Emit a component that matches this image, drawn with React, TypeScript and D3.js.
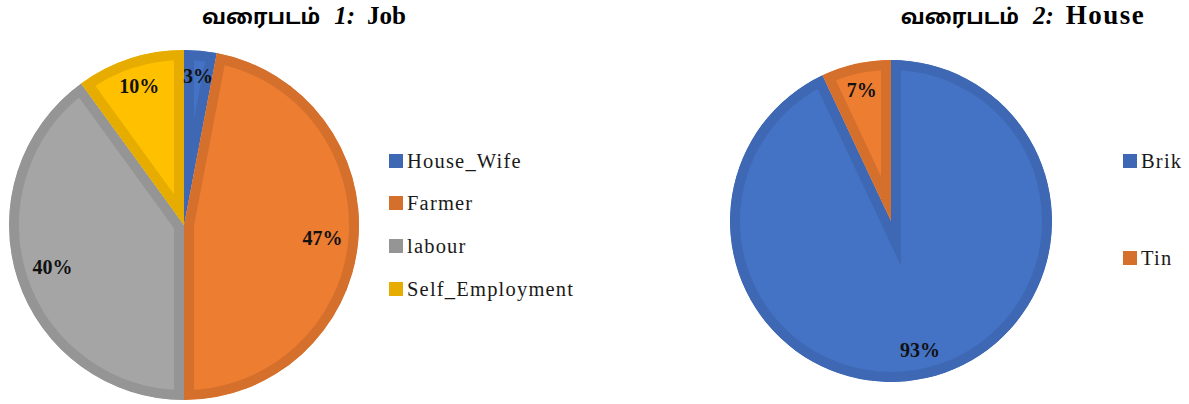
import React from "react";
import * as d3 from "d3";

const jobCategories = ["House_Wife", "Farmer", "labour", "Self_Employment"];
const jobValues = [3, 47, 40, 10];
const jobFills = ["#4472C4", "#ED7D31", "#A5A5A5", "#FFC000"];
const jobBorders = ["#3E68B3", "#D5702C", "#959595", "#E6AC00"];

const houseCategories = ["Brik", "Tin"];
const houseValues = [93, 7];
const houseFills = ["#4472C4", "#ED7D31"];
const houseBorders = ["#3E68B3", "#D5702C"];

const W = 1189;
const H = 404;
const SERIF = "'Liberation Serif', 'Times New Roman', serif";
const TAMIL = "'Noto Sans Tamil', Latha, 'Noto Sans', 'DejaVu Sans', sans-serif";

type PieProps = {
  id: string;
  cx: number;
  cy: number;
  r: number;
  values: number[];
  fills: string[];
  borders: string[];
};

function Pie({ id, cx, cy, r, values, fills, borders }: PieProps) {
  const pie = d3.pie<number>().sort(null).value((d) => d).startAngle(0).endAngle(2 * Math.PI);
  const arcs = pie(values);
  const arc = d3.arc<d3.PieArcDatum<number>>().innerRadius(0).outerRadius(r);
  const total = d3.sum(values);
  const fs = 20;
  const inset = 15;
  return (
    <g transform={`translate(${cx},${cy})`}>
      <defs>
        {arcs.map((a, i) => (
          <clipPath id={`${id}-clip-${i}`} key={i}>
            <path d={arc(a) || ""} />
          </clipPath>
        ))}
      </defs>
      {arcs.map((a, i) => (
        <path
          key={i}
          d={arc(a) || ""}
          fill={fills[i]}
          stroke={borders[i]}
          strokeWidth={20}
          strokeLinejoin="miter"
          strokeMiterlimit={30}
          clipPath={`url(#${id}-clip-${i})`}
        />
      ))}
      {arcs.map((a, i) => {
        const pct = Math.round((a.value / total) * 100) + "%";
        const mid = (a.startAngle + a.endAngle) / 2;
        const digits = pct.length - 1;
        const w = (digits * 0.5 + 1.0) * fs;
        const h = fs * 0.9;
        const d = r - inset - (Math.abs(Math.sin(mid)) * w) / 2 - (Math.abs(Math.cos(mid)) * h) / 2;
        const x = Math.sin(mid) * d;
        const y = -Math.cos(mid) * d;
        return (
          <text
            key={`l${i}`}
            x={x}
            y={y}
            dy="0.33em"
            textAnchor="middle"
            fontFamily={SERIF}
            fontWeight="bold"
            fontSize={fs}
            fill="#111"
          >
            {pct}
          </text>
        );
      })}
    </g>
  );
}

type LegendProps = { x: number; ys: number[]; labels: string[]; colors: string[] };

function Legend({ x, ys, labels, colors }: LegendProps) {
  return (
    <g>
      {labels.map((l, i) => (
        <g key={l} transform={`translate(${x},${ys[i]})`}>
          <rect x={0} y={-7} width={14} height={14} fill={colors[i]} />
          <text x={18} y={0} dy="0.35em" fontFamily={SERIF} fontSize={20.5} letterSpacing={1.2} fill="#1a1a1a">
            {l}
          </text>
        </g>
      ))}
    </g>
  );
}

function Title({ x, num, word, wordSize, wordSpacing }: { x: number; num: string; word: string; wordSize: number; wordSpacing: number }) {
  return (
    <text x={x} y={24} textAnchor="middle" fill="#000" fontWeight="bold">
      <tspan fontFamily={TAMIL} fontSize={21}>வரைபடம்</tspan>
      <tspan fontFamily={SERIF} fontStyle="italic" fontSize={25} dx={14}>{num}:</tspan>
      <tspan fontFamily={SERIF} fontSize={wordSize} dx={12} letterSpacing={wordSpacing}>{word}</tspan>
    </text>
  );
}

export default function App() {
  return (
    <svg
      width={W}
      height={H}
      viewBox={`0 0 ${W} ${H}`}
      style={{ position: "absolute", left: 0, top: 0, background: "#fff" }}
    >
      <rect width={W} height={H} fill="#fff" />
      <Title x={304} num="1" word="Job" wordSize={25} wordSpacing={0} />
      <Title x={1023} num="2" word="House" wordSize={27} wordSpacing={1.5} />
      <Pie id="job" cx={184} cy={225} r={175} values={jobValues} fills={jobFills} borders={jobBorders} />
      <Pie id="house" cx={891} cy={221} r={161} values={houseValues} fills={houseFills} borders={houseBorders} />
      <Legend x={389} ys={[161, 203, 246, 289]} labels={jobCategories} colors={jobBorders} />
      <Legend x={1123} ys={[161, 258]} labels={houseCategories} colors={houseBorders} />
    </svg>
  );
}
